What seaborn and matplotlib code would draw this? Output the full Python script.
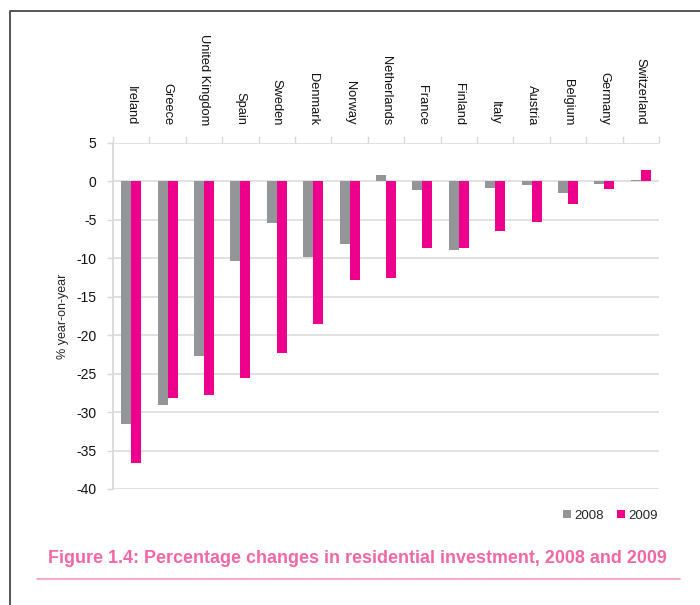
import matplotlib
matplotlib.use("Agg")
import matplotlib.pyplot as plt
from matplotlib.patches import Patch
from matplotlib.lines import Line2D
import seaborn as sns
import pandas as pd

countries = ["Ireland", "Greece", "United Kingdom", "Spain", "Sweden", "Denmark",
             "Norway", "Netherlands", "France", "Finland", "Italy", "Austria",
             "Belgium", "Germany", "Switzerland"]
values_2008 = [-31.6, -29.1, -22.7, -10.3, -5.4, -9.8, -8.1, 0.9, -1.1, -8.9,
               -0.8, -0.4, -1.5, -0.3, 0.2]
values_2009 = [-36.6, -28.1, -27.8, -25.5, -22.3, -18.5, -12.8, -12.6, -8.6, -8.6,
               -6.5, -5.3, -2.9, -1.0, 1.5]
years = ["2008", "2009"]
y_ticks = [5, 0, -5, -10, -15, -20, -25, -30, -35, -40]
y_label = "% year-on-year"
title = "Figure 1.4: Percentage changes in residential investment, 2008 and 2009"

df = pd.DataFrame({
    "country": countries * 2,
    "year": [years[0]] * len(countries) + [years[1]] * len(countries),
    "value": values_2008 + values_2009,
})

sns.set_theme(style="white")
plt.rcParams["font.family"] = ["Liberation Sans", "DejaVu Sans"]

GRAY = "#939598"
PINK = "#EC008C"
GRID = "#D9D9D9"

fig = plt.figure(figsize=(7.0, 6.05), dpi=100)
ax = fig.add_axes([113 / 700, 1 - 489 / 605, 546 / 700, 346 / 605])

for y in y_ticks:
    ax.axhline(y, color=GRID, lw=1.1, zorder=0)

sns.barplot(data=df, x="country", y="value", hue="year", order=countries,
            hue_order=years, palette=[GRAY, PINK], width=0.55, gap=0,
            saturation=1, ax=ax, legend=False, zorder=2, linewidth=0)

ax.set_xlim(-0.5, len(countries) - 0.5)
ax.set_ylim(-40, 5)
ax.set_yticks(y_ticks)
ax.set_yticklabels([str(v) for v in y_ticks], fontsize=10)
ax.set_ylabel(y_label, fontsize=9, labelpad=5)
ax.set_xlabel("")

for s in ["right", "bottom", "top"]:
    ax.spines[s].set_visible(False)
ax.spines["left"].set_color(GRID)
ax.spines["left"].set_linewidth(1.3)

ax.tick_params(axis="y", which="major", left=True, length=4, width=1,
               color=GRID, pad=8, labelcolor="#111111")

ax.xaxis.tick_top()
ax.set_xticks(range(len(countries)))
ax.set_xticklabels(countries, rotation=-90, fontsize=9.3, va="bottom")
ax.tick_params(axis="x", which="major", top=True, bottom=False, length=0, pad=13,
               labelcolor="#111111")
ax.set_xticks([i - 0.5 for i in range(len(countries) + 1)], minor=True)
ax.tick_params(axis="x", which="minor", top=True, bottom=False, length=5,
               width=1, color=GRID, direction="out")

handles = [Patch(facecolor=GRAY, edgecolor="none"),
           Patch(facecolor=PINK, edgecolor="none")]
fig.legend(handles, years, loc="center right",
           bbox_to_anchor=(658 / 700, 1 - 516 / 605), ncol=2, frameon=False,
           fontsize=9.5, handlelength=0.55, handleheight=0.55,
           handletextpad=0.3, columnspacing=1.0, borderpad=0, borderaxespad=0)

fig.text(357 / 700, 1 - 563 / 605, title, ha="center", va="baseline",
         fontsize=12.9, fontweight="bold", color="#F067A6",
         family=["Liberation Sans", "DejaVu Sans"])

fig.add_artist(Line2D([37 / 700, 680 / 700], [1 - 579 / 605, 1 - 579 / 605],
                      transform=fig.transFigure, color="#F49AC1", lw=1.2))
# frame
fig.add_artist(Line2D([9.5 / 700, 9.5 / 700, 1.0], [0, 1 - 11 / 605, 1 - 11 / 605],
                      transform=fig.transFigure, color="#555555", lw=1.4))

fig.savefig("out.png", dpi=100)
